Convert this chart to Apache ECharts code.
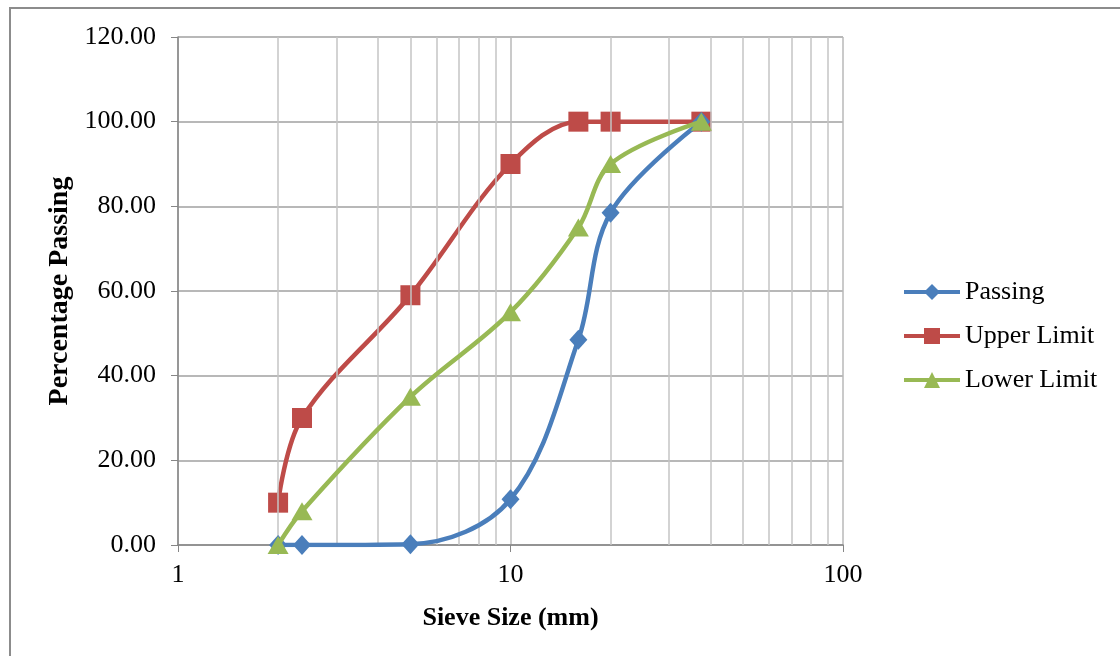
<!DOCTYPE html>
<html>
<head>
<meta charset="utf-8">
<script src="https://cdn.jsdelivr.net/npm/echarts@6/dist/echarts.min.js"></script>
<style>
html,body{margin:0;padding:0;background:#fff;}
#chart{width:1120px;height:656px;}
</style>
</head>
<body>
<div id="chart"></div>
<script>
const sieveSizes = [2, 2.36, 5, 10, 16, 20, 37.5];
const passing = [0, 0, 0.2, 10.8, 48.5, 78.5, 100];
const upperLimit = [10, 30, 59, 90, 100, 100, 100];
const lowerLimit = [0, 8, 35, 55, 75, 90, 100];
const minorGridValues = [2, 3, 4, 5, 6, 7, 8, 9, 20, 30, 40, 50, 60, 70, 80, 90];

const FONT = '"Liberation Serif", "Times New Roman", serif';
const pairs = ys => sieveSizes.map((x, i) => [x, ys[i]]);

const chart = echarts.init(document.getElementById('chart'), null, {renderer: 'canvas'});
chart.setOption({
  animation: false,
  backgroundColor: '#fff',
  graphic: [{
    type: 'rect', z: 100,
    shape: {x: 10, y: 8, width: 1200, height: 700},
    style: {fill: 'none', stroke: '#8c8c8c', lineWidth: 2}
  }],
  grid: {left: 178, right: 277, top: 37, bottom: 111, containLabel: false},
  xAxis: {
    type: 'log', logBase: 10, min: 1, max: 100,
    name: 'Sieve Size (mm)', nameLocation: 'middle', nameGap: 60,
    nameTextStyle: {fontFamily: FONT, fontSize: 26, fontWeight: 'bold', color: '#000'},
    axisLine: {show: true, lineStyle: {color: '#868686', width: 1.5}},
    axisTick: {show: true, length: 7, lineStyle: {color: '#868686'}},
    axisLabel: {fontFamily: FONT, fontSize: 26, color: '#000', margin: 17},
    splitLine: {show: true, lineStyle: {color: '#b8b8b8', width: 1.5}},
    minorTick: {show: false}, minorSplitLine: {show: false}
  },
  yAxis: {
    type: 'value', min: 0, max: 120, interval: 20,
    name: 'Percentage Passing', nameLocation: 'middle', nameGap: 100,
    nameTextStyle: {fontFamily: FONT, fontSize: 28, fontWeight: 'bold', color: '#000'},
    axisLine: {show: true, lineStyle: {color: '#868686', width: 1.5}},
    axisTick: {show: true, length: 7, lineStyle: {color: '#868686'}},
    axisLabel: {fontFamily: FONT, fontSize: 26, color: '#000', margin: 22,
      formatter: v => v.toFixed(2)},
    splitLine: {show: true, lineStyle: {color: '#a0a0a0', width: 1.5}}
  },
  legend: {
    orient: 'vertical', left: 902, top: 279, padding: 0,
    itemWidth: 56, itemHeight: 20, itemGap: 18,
    lineStyle: {width: 4},
    textStyle: {fontFamily: FONT, fontSize: 26, color: '#000'},
    data: ['Passing', 'Upper Limit', 'Lower Limit']
  },
  series: [
    {
      name: 'minor-grid', type: 'line', data: [], z: 1, silent: true,
      markLine: {
        silent: true, symbol: 'none', label: {show: false},
        lineStyle: {color: '#c4c4c4', type: 'solid', width: 1.5},
        data: minorGridValues.map(v => ({xAxis: v}))
      }
    },
    {
      name: 'Passing', type: 'line', z: 5, smooth: 0.35,
      data: pairs(passing),
      symbol: 'diamond', symbolSize: [18, 20],
      lineStyle: {color: '#4a7ebb', width: 4.5},
      itemStyle: {color: '#4a7ebb'}
    },
    {
      name: 'Upper Limit', type: 'line', z: 4, smooth: 0.35,
      data: pairs(upperLimit),
      symbol: 'rect', symbolSize: 20,
      lineStyle: {color: '#be4b48', width: 4.5},
      itemStyle: {color: '#be4b48'}
    },
    {
      name: 'Lower Limit', type: 'line', z: 6, smooth: 0.35,
      data: pairs(lowerLimit),
      symbol: 'triangle', symbolSize: [21, 18],
      lineStyle: {color: '#98b954', width: 4.5},
      itemStyle: {color: '#98b954'}
    }
  ]
});
</script>
</body>
</html>
